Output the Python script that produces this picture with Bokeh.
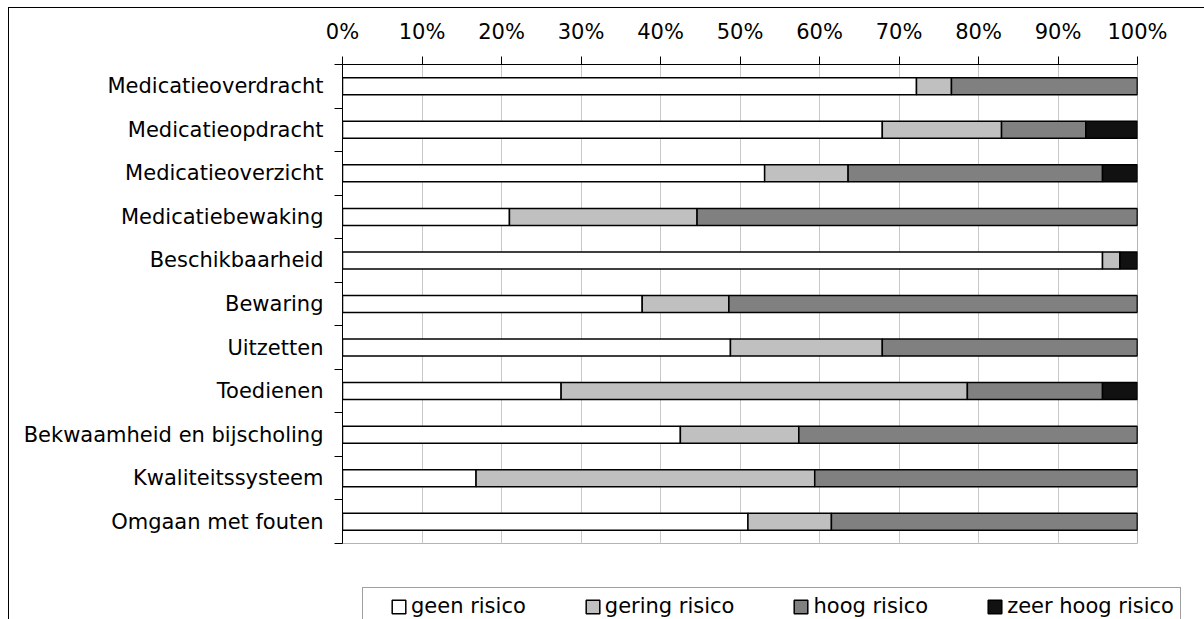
from bokeh.plotting import figure
from bokeh.layouts import column
from bokeh.models import (ColumnDataSource, Range1d, FixedTicker, PrintfTickFormatter,
                          Legend, LegendItem)
from bokeh.embed import file_html
from bokeh.resources import INLINE

categories = ["Medicatieoverdracht", "Medicatieopdracht", "Medicatieoverzicht",
              "Medicatiebewaking", "Beschikbaarheid", "Bewaring", "Uitzetten",
              "Toedienen", "Bekwaamheid en bijscholing", "Kwaliteitssysteem",
              "Omgaan met fouten"]
geen_risico = [72.2, 67.9, 53.1, 21.0, 95.6, 37.7, 48.8, 27.5, 42.5, 16.8, 51.0]
gering_risico = [4.4, 15.0, 10.5, 23.6, 2.2, 10.9, 19.1, 51.1, 14.9, 42.6, 10.5]
hoog_risico = [23.4, 10.6, 32.0, 55.4, 0.0, 51.4, 32.1, 17.0, 42.6, 40.6, 38.5]
zeer_hoog_risico = [0.0, 6.5, 4.4, 0.0, 2.2, 0.0, 0.0, 4.4, 0.0, 0.0, 0.0]
series_labels = ["geen risico", "gering risico", "hoog risico", "zeer hoog risico"]
x_ticks = [0, 10, 20, 30, 40, 50, 60, 70, 80, 90, 100]

FONT = "DejaVu Sans"
FS = "21px"
colors = ["#FFFFFF", "#C0C0C0", "#808080", "#111111"]
keys = ["geen", "gering", "hoog", "zeer"]

n = len(categories)
src = ColumnDataSource(dict(pos=list(range(n)), geen=geen_risico, gering=gering_risico,
                            hoog=hoog_risico, zeer=zeer_hoog_risico))

# ---- main chart ----
p = figure(width=1195, height=572, output_backend="svg", toolbar_location=None,
           x_range=Range1d(0, 100), y_range=Range1d(n - 0.5, -0.5),
           x_axis_location="above",
           min_border_left=333, min_border_top=56, min_border_right=67,
           min_border_bottom=37)
p.frame_align = False

p.hbar_stack(keys, y="pos", height=0.39, source=src,
             fill_color=colors, line_color="black", line_width=1.5)

p.background_fill_color = "white"
p.border_fill_color = "white"
p.outline_line_color = "#B4B4B4"

xa = p.xaxis[0]
xa.ticker = FixedTicker(ticks=x_ticks)
xa.formatter = PrintfTickFormatter(format="%d%%")
xa.major_label_text_font = FONT
xa.major_label_text_font_size = FS
xa.major_label_text_color = "black"
xa.major_tick_out = 8
xa.major_tick_in = 0
xa.major_label_standoff = 13
xa.minor_tick_line_color = None
xa.axis_line_color = "black"
xa.major_tick_line_color = "black"

ya = p.yaxis[0]
ya.ticker = FixedTicker(ticks=list(range(n)), minor_ticks=[i - 0.5 for i in range(n + 1)])
ya.major_label_overrides = {i: c for i, c in enumerate(categories)}
ya.major_label_text_font = FONT
ya.major_label_text_font_size = FS
ya.major_label_text_color = "black"
ya.major_tick_line_color = None
ya.major_tick_out = 8
ya.major_tick_in = 0
ya.minor_tick_out = 8
ya.minor_tick_in = 0
ya.minor_tick_line_color = "black"
ya.major_label_standoff = 11
ya.axis_line_color = "black"

p.ygrid.visible = False
p.xgrid.grid_line_color = "#C8C8C8"
p.xgrid.grid_line_width = 1

# ---- legend strip ----
pl = figure(width=1195, height=39, output_backend="svg", toolbar_location=None,
            x_range=Range1d(0, 100), y_range=Range1d(0, 1),
            min_border_left=346, min_border_top=0, min_border_right=0,
            min_border_bottom=0)
pl.frame_align = False
pl.axis.visible = False
pl.grid.visible = False
pl.outline_line_color = None
pl.background_fill_color = "white"
pl.border_fill_color = "white"
leg_renderers = pl.hbar_stack(keys, y="pos", height=0.39, source=src,
                              fill_color=colors, line_color="black", line_width=1.5)
for r in leg_renderers:
    r.visible = False

legend = Legend(items=[LegendItem(label=l, renderers=[r]) for l, r in zip(series_labels, leg_renderers)],
                orientation="horizontal", location="top_left",
                title=" ", title_location="left", title_text_font_size="10px",
                title_standoff=10,
                glyph_width=17, glyph_height=17, label_standoff=4, spacing=58,
                padding=6, margin=7,
                label_text_font=FONT, label_text_font_size=FS, label_text_color="black",
                border_line_color="#404040", border_line_width=1,
                background_fill_color="white", background_fill_alpha=1)
pl.add_layout(legend, "center")

layout = column(p, pl, spacing=0,
                styles={"margin-left": "8px", "margin-top": "7px",
                        "border-top": "1px solid black", "border-left": "1px solid black"})

open("out.html", "w").write(file_html(layout, INLINE))
